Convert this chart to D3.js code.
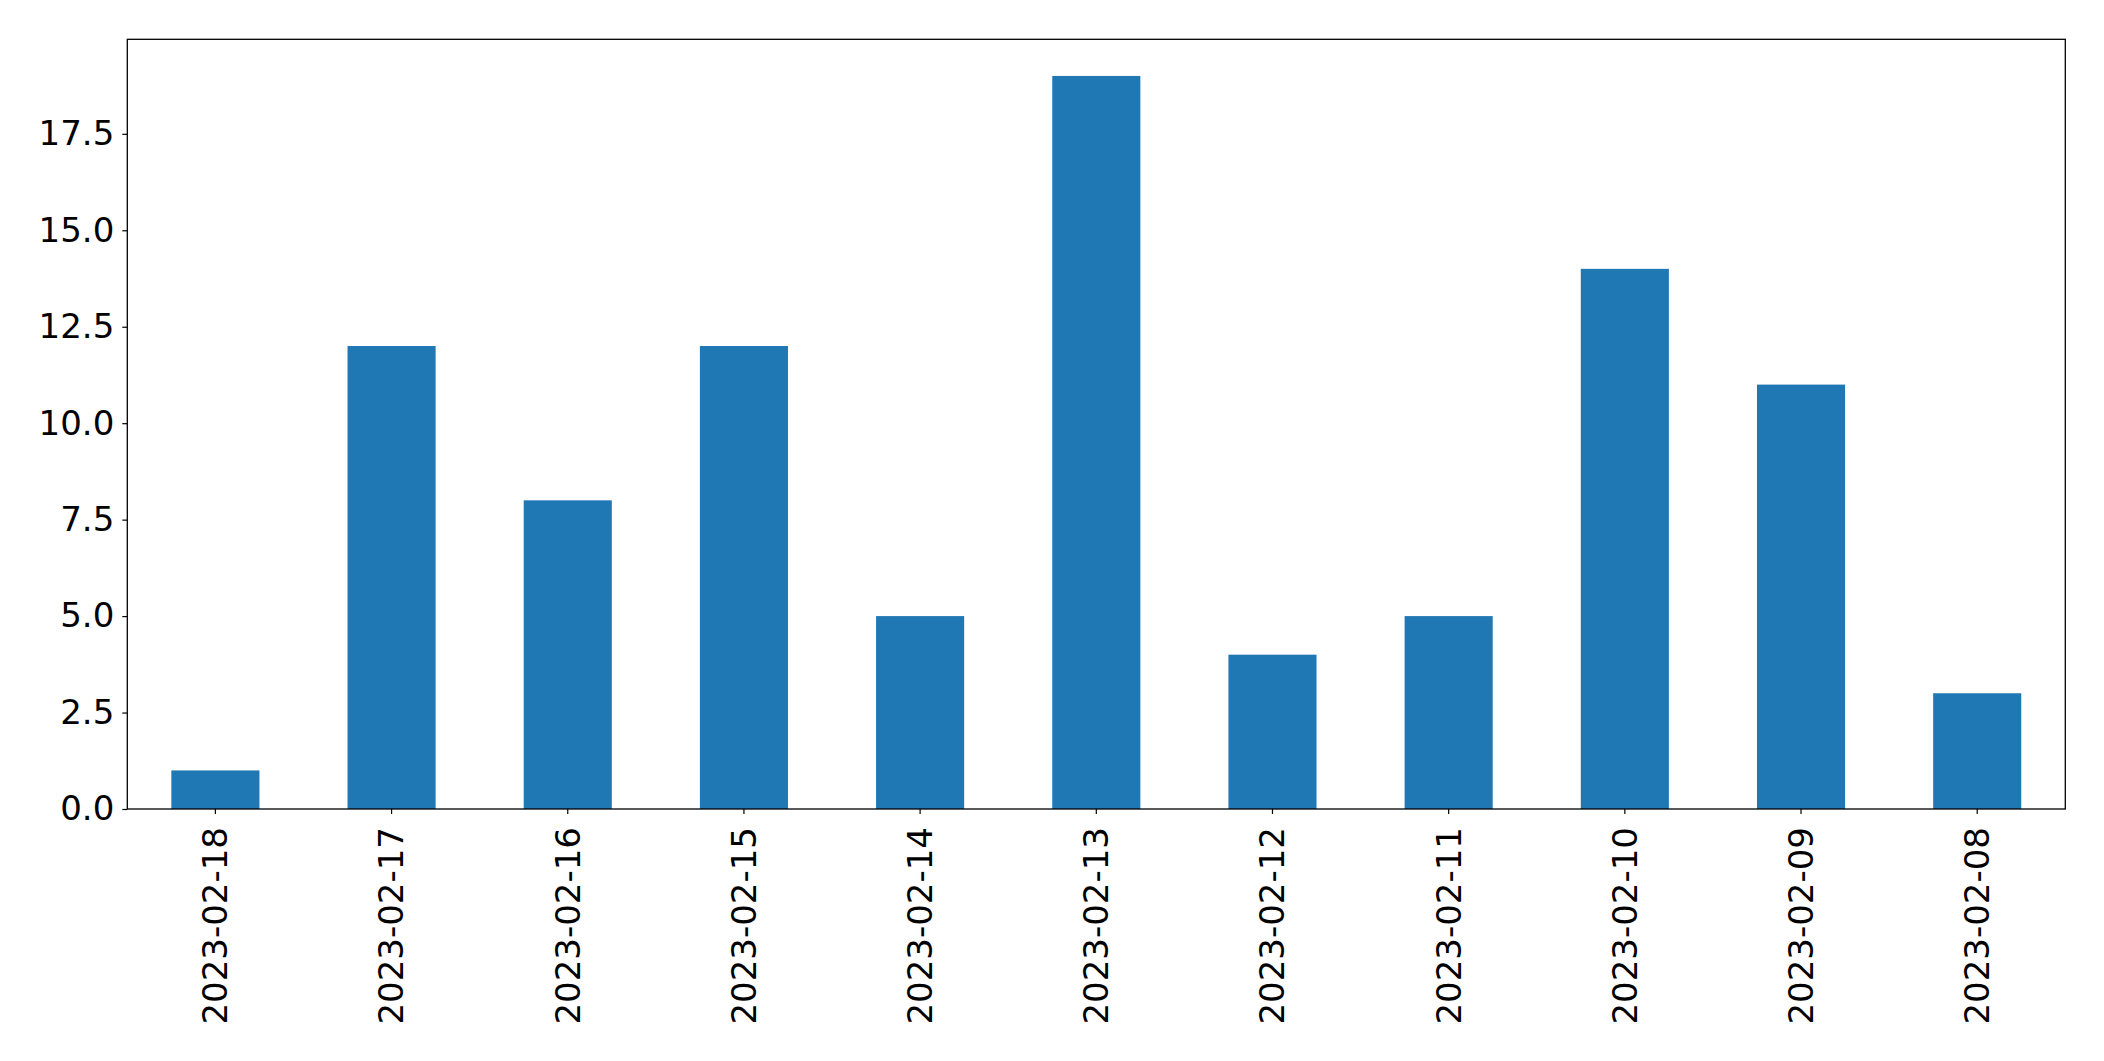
<!DOCTYPE html>
<html>
<head>
<meta charset="utf-8">
<script src="https://cdn.jsdelivr.net/npm/d3@7"></script>
<style>
html, body { margin: 0; padding: 0; background: #fff; }
svg { display: block; }
</style>
</head>
<body>
<script>
const categories = ["2023-02-18","2023-02-17","2023-02-16","2023-02-15","2023-02-14","2023-02-13","2023-02-12","2023-02-11","2023-02-10","2023-02-09","2023-02-08"];
const values = [1, 12, 8, 12, 5, 19, 4, 5, 14, 11, 3];
const yTicks = [0, 2.5, 5, 7.5, 10, 12.5, 15, 17.5];

const W = 2104, H = 1061;
const m = { left: 127.3, right: 2065.3, top: 39.3, bottom: 809 };
const fontSize = 34;

const svg = d3.select("body").append("svg").attr("width", W).attr("height", H);

const x = d3.scaleBand().domain(categories).range([m.left, m.right]).paddingInner(0.5).paddingOuter(0.25);
const y = d3.scaleLinear().domain([0, d3.max(values) * 1.05]).range([m.bottom, m.top]);

svg.append("g").selectAll("rect").data(values).join("rect")
  .attr("x", (d, i) => x(categories[i]))
  .attr("width", x.bandwidth())
  .attr("y", d => y(d))
  .attr("height", d => y(0) - y(d))
  .attr("fill", "#1f77b4");

const yAxis = svg.append("g").attr("transform", `translate(${m.left},0)`)
  .call(d3.axisLeft(y).tickValues(yTicks).tickFormat(d3.format(".1f")).tickSize(5).tickPadding(8));
yAxis.select(".domain").remove();
yAxis.selectAll("text").attr("font-family", "DejaVu Sans").attr("font-size", fontSize).attr("fill", "#000");
yAxis.selectAll("line").attr("stroke", "#000").attr("stroke-width", 1.2);

const xAxis = svg.append("g").attr("transform", `translate(0,${m.bottom})`)
  .call(d3.axisBottom(x).tickSize(5).tickPadding(0));
xAxis.select(".domain").remove();
xAxis.selectAll("line").attr("stroke", "#000").attr("stroke-width", 1.2);
xAxis.selectAll("text")
  .attr("font-family", "DejaVu Sans").attr("font-size", fontSize).attr("fill", "#000")
  .attr("transform", "translate(0,18) rotate(-90)")
  .attr("x", 0).attr("y", 0).attr("dy", "0.35em")
  .attr("text-anchor", "end");

svg.append("rect")
  .attr("x", m.left).attr("y", m.top)
  .attr("width", m.right - m.left).attr("height", m.bottom - m.top)
  .attr("fill", "none").attr("stroke", "#000").attr("stroke-width", 1.3);
</script>
</body>
</html>
